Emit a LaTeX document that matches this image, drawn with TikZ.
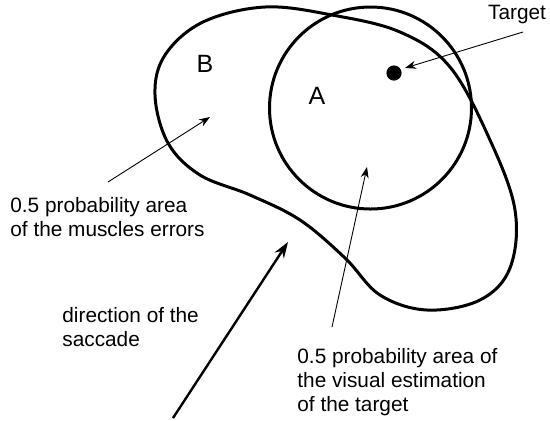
\documentclass[tikz,border=0pt]{standalone}
\usepackage{fontspec}
\setmainfont{Liberation Sans}
\usetikzlibrary{arrows.meta}
\begin{document}
\begin{tikzpicture}[x=0.5pt,y=-0.5pt,
  contour/.style={line width=1.5pt, line join=round},
  thinarrow/.style={line width=0.45pt, -{Stealth[length=5.5pt,width=4pt]}},
  thickarrow/.style={line width=1.2pt, -{Stealth[length=8pt,width=5.5pt]}},
  lbl/.style={font=\fontsize{10.4}{12}\selectfont, align=left, inner sep=0pt, anchor=base west},
  big/.style={font=\fontsize{12.5}{14}\selectfont, inner sep=0pt}]
\useasboundingbox (0,0) rectangle (550,420);
% circle A
\draw[contour] (370.5,108) circle[radius=50.5pt];
% blob B
\draw[contour] plot[smooth cycle, tension=0.6] coordinates {
  (265,7) (332,15) (400,32) (450,67) (490,140) (515,210) (510,268)
  (480,300) (427,310) (380,295) (345,258) (300,220) (250,195)
  (200,175) (168,143) (155,95) (165,55) (203,22)};
% labels
\node[big] (B) at (205,64) {B};
\node[big] (A) at (317,96) {A};
% target
\fill (394,73) circle[radius=3.8pt];
\coordinate (tdot) at (405,68);
\node[inner sep=0pt, font=\fontsize{10.4}{12}\selectfont] (target) at (517,14) {Target};
\coordinate (tstart) at (523,32);
\draw[thinarrow] (tstart) -- (tdot);
% muscles
\node[lbl] (muscles) at (10,236) {0.5 probability area\\of the muscles errors};
\coordinate (mstart) at (108,182);
\coordinate (mend) at (210,117);
\draw[thinarrow] (mstart) -- (mend);
% visual
\node[lbl] (visual) at (297,411) {0.5 probability area of\\the visual estimation\\of the target};
\coordinate (vstart) at (332,327);
\coordinate (vend) at (367,167);
\draw[thinarrow] (vstart) -- (vend);
% saccade
\node[lbl] (saccade) at (62,346) {direction of the\\saccade};
\coordinate (sstart) at (173,418);
\coordinate (send) at (288,242);
\draw[thickarrow] (sstart) -- (send);
\end{tikzpicture}
\end{document}
